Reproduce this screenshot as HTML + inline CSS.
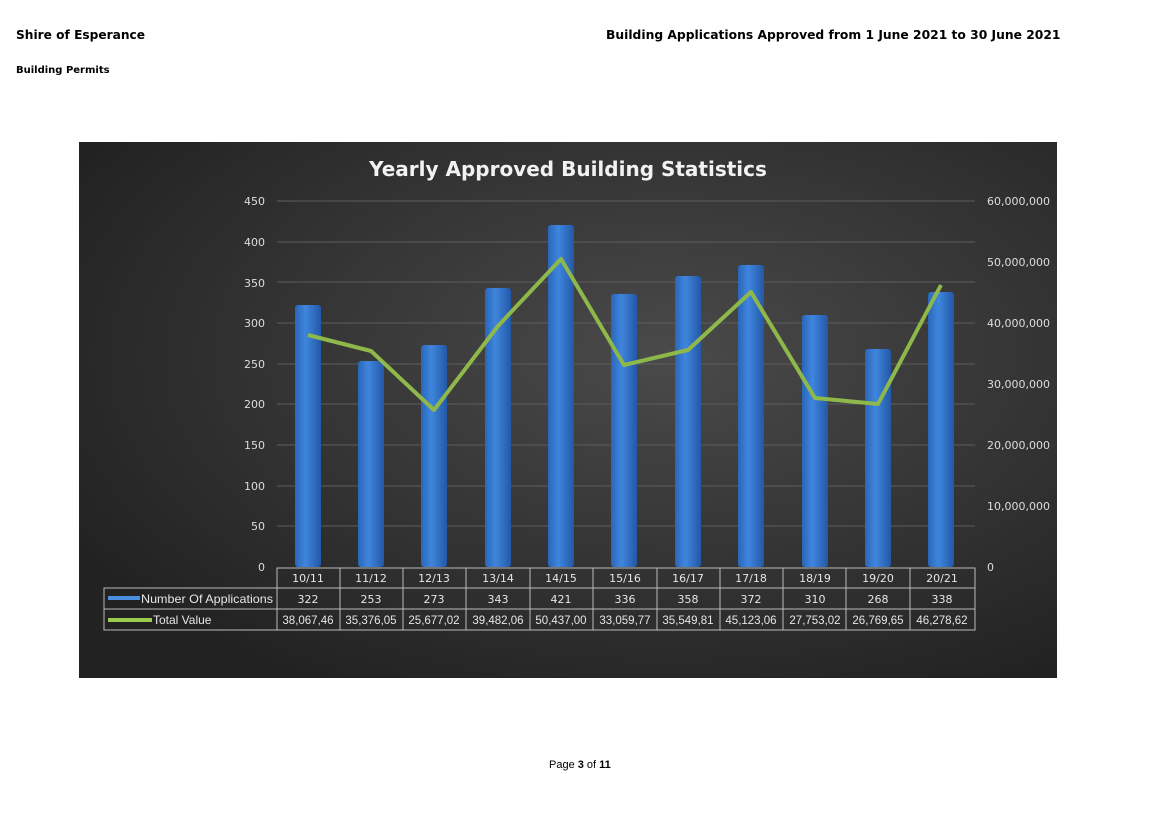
<!DOCTYPE html>
<html><head><meta charset="utf-8"><style>
body{margin:0;background:#fff;width:1160px;height:821px;position:relative;font-family:"Liberation Sans",sans-serif;}
.h{position:absolute;font-family:"DejaVu Sans",sans-serif;font-weight:bold;color:#000;}
</style></head><body>
<div class="h" style="left:16px;top:28px;font-size:12.2px;">Shire of Esperance</div>
<div class="h" style="left:16px;top:65px;font-size:10px;">Building Permits</div>
<div class="h" style="left:606px;top:28px;font-size:12.3px;">Building Applications Approved from 1 June 2021 to 30 June 2021</div>
<div style="position:absolute;left:549px;top:759px;font-size:11px;">Page <b>3</b> of <b>11</b></div>
<svg style="position:absolute;left:0;top:0" width="1160" height="821">
<defs>
<radialGradient id="bg" cx="0.6" cy="0.4" r="0.7"><stop offset="0" stop-color="#4a4a4a"/><stop offset="1" stop-color="#222"/></radialGradient>
<linearGradient id="bar" x1="0" x2="1"><stop offset="0" stop-color="#2a66b8"/><stop offset="0.4" stop-color="#3f86de"/><stop offset="1" stop-color="#2358a6"/></linearGradient>
</defs>
<rect x="79" y="142" width="978" height="536" fill="url(#bg)"/>
<text x="568" y="176" text-anchor="middle" fill="#f2f2f2" font-family="DejaVu Sans,sans-serif" font-weight="bold" font-size="20">Yearly Approved Building Statistics</text>
<g stroke="#5d5d5d" stroke-width="1">
<line x1="277" x2="975" y1="201" y2="201"/><line x1="277" x2="975" y1="242" y2="242"/><line x1="277" x2="975" y1="282" y2="282"/><line x1="277" x2="975" y1="323" y2="323"/><line x1="277" x2="975" y1="364" y2="364"/><line x1="277" x2="975" y1="404" y2="404"/><line x1="277" x2="975" y1="445" y2="445"/><line x1="277" x2="975" y1="486" y2="486"/><line x1="277" x2="975" y1="526" y2="526"/>
</g>
<g fill="#ddd" font-size="11" text-anchor="end" font-family="DejaVu Sans,sans-serif">
<text x="265" y="205">450</text><text x="265" y="246">400</text><text x="265" y="287">350</text><text x="265" y="327">300</text><text x="265" y="368">250</text><text x="265" y="408">200</text><text x="265" y="449">150</text><text x="265" y="490">100</text><text x="265" y="530">50</text><text x="265" y="571">0</text>
</g>
<g fill="#ddd" font-size="11" font-family="DejaVu Sans,sans-serif">
<text x="987" y="205">60,000,000</text><text x="987" y="266">50,000,000</text><text x="987" y="327">40,000,000</text><text x="987" y="388">30,000,000</text><text x="987" y="449">20,000,000</text><text x="987" y="510">10,000,000</text><text x="987" y="571">0</text>
</g>
<g fill="url(#bar)">
<rect x="295" y="305" width="26" height="262" rx="3"/>
<rect x="358" y="361" width="26" height="206" rx="3"/>
<rect x="421" y="345" width="26" height="222" rx="3"/>
<rect x="485" y="288" width="26" height="279" rx="3"/>
<rect x="548" y="225" width="26" height="342" rx="3"/>
<rect x="611" y="294" width="26" height="273" rx="3"/>
<rect x="675" y="276" width="26" height="291" rx="3"/>
<rect x="738" y="265" width="26" height="302" rx="3"/>
<rect x="802" y="315" width="26" height="252" rx="3"/>
<rect x="865" y="349" width="26" height="218" rx="3"/>
<rect x="928" y="292" width="26" height="275" rx="3"/>
</g>
<polyline fill="none" stroke="#8fb84a" stroke-width="4" stroke-linejoin="round" points="308,335 371,351 434,410 498,326 561,259 624,365 688,350 751,292 815,398 878,404 941,285"/>
<g stroke="#bbb" stroke-width="1" fill="none">
<rect x="277" y="568" width="698" height="62"/>
<rect x="104" y="588" width="173" height="42"/>
<line x1="104" x2="975" y1="588" y2="588"/><line x1="104" x2="975" y1="609" y2="609"/>
<line x1="340" x2="340" y1="568" y2="630"/><line x1="403" x2="403" y1="568" y2="630"/><line x1="466" x2="466" y1="568" y2="630"/><line x1="530" x2="530" y1="568" y2="630"/><line x1="593" x2="593" y1="568" y2="630"/><line x1="657" x2="657" y1="568" y2="630"/><line x1="720" x2="720" y1="568" y2="630"/><line x1="783" x2="783" y1="568" y2="630"/><line x1="846" x2="846" y1="568" y2="630"/><line x1="910" x2="910" y1="568" y2="630"/>
</g>
<line x1="108" x2="140" y1="598" y2="598" stroke="#4a8fe0" stroke-width="4"/>
<line x1="108" x2="152" y1="620" y2="620" stroke="#9ccc4e" stroke-width="4"/>
<g fill="#e6e6e6" font-family="Liberation Sans,sans-serif">
<text x="141" y="603" font-size="12" textLength="132" lengthAdjust="spacingAndGlyphs">Number Of Applications</text>
<text x="153" y="624" font-size="12">Total Value</text>
</g>
<g fill="#e6e6e6" font-size="11" text-anchor="middle" font-family="DejaVu Sans,sans-serif">
<text x="308" y="582">10/11</text><text x="371" y="582">11/12</text><text x="434" y="582">12/13</text><text x="498" y="582">13/14</text><text x="561" y="582">14/15</text><text x="625" y="582">15/16</text><text x="688" y="582">16/17</text><text x="751" y="582">17/18</text><text x="815" y="582">18/19</text><text x="878" y="582">19/20</text><text x="942" y="582">20/21</text>
<text x="308" y="603">322</text><text x="371" y="603">253</text><text x="434" y="603">273</text><text x="498" y="603">343</text><text x="561" y="603">421</text><text x="625" y="603">336</text><text x="688" y="603">358</text><text x="751" y="603">372</text><text x="815" y="603">310</text><text x="878" y="603">268</text><text x="942" y="603">338</text>
<g font-size="11.5" font-family="Liberation Sans,sans-serif"><text x="308" y="624">38,067,46</text><text x="371" y="624">35,376,05</text><text x="434" y="624">25,677,02</text><text x="498" y="624">39,482,06</text><text x="561" y="624">50,437,00</text><text x="625" y="624">33,059,77</text><text x="688" y="624">35,549,81</text><text x="751" y="624">45,123,06</text><text x="815" y="624">27,753,02</text><text x="878" y="624">26,769,65</text><text x="942" y="624">46,278,62</text></g>
</g>
</svg>
</body></html>
